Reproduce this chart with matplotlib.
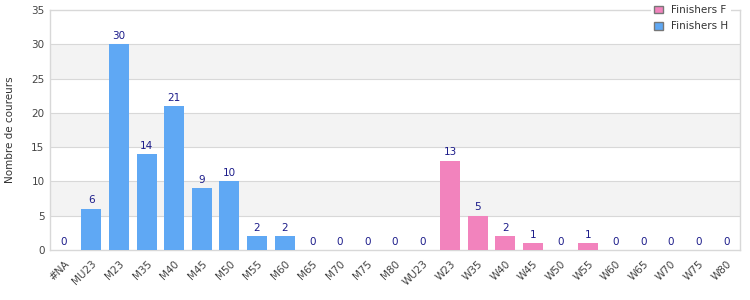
import numpy as np
import matplotlib
matplotlib.use('Agg')
import matplotlib.pyplot as plt
from matplotlib.patches import Patch

categories = ['#NA', 'MU23', 'M23', 'M35', 'M40', 'M45', 'M50', 'M55', 'M60', 'M65',
              'M70', 'M75', 'M80', 'WU23', 'W23', 'W35', 'W40', 'W45', 'W50', 'W55',
              'W60', 'W65', 'W70', 'W75', 'W80']
finishers_h = [0, 6, 30, 14, 21, 9, 10, 2, 2, 0, 0, 0, 0, None, None, None, None, None,
               None, None, None, None, None, None, None]
finishers_f = [None, None, None, None, None, None, None, None, None, None, None, None, None,
               0, 13, 5, 2, 1, 0, 1, 0, 0, 0, 0, 0]

blue = '#5fa8f4'
pink = '#f283bd'
grid_c = '#d8d8d8'

plt.rcParams['font.family'] = 'DejaVu Sans'
fig = plt.figure(figsize=(7.5, 3), dpi=100)
ax = fig.add_axes([0.0667, 0.1667, 0.92, 0.80])

x = np.arange(len(categories))
h_idx = [i for i, v in enumerate(finishers_h) if v is not None]
f_idx = [i for i, v in enumerate(finishers_f) if v is not None]
h_val = [finishers_h[i] for i in h_idx]
f_val = [finishers_f[i] for i in f_idx]

ax.bar(h_idx, h_val, width=0.72, color=blue, zorder=3)
ax.bar(f_idx, f_val, width=0.72, color=pink, zorder=3)

for i, v in zip(h_idx + f_idx, h_val + f_val):
    ax.text(i, v + 0.5, str(v), ha='center', va='bottom', fontsize=7.5, color='#1c1c8a', zorder=4)

# alternating bands
for lo in range(5, 35, 10):
    ax.axhspan(lo, lo + 5, color='#f3f3f3', zorder=0, lw=0)
for yv in range(5, 35, 5):
    ax.axhline(yv, color=grid_c, lw=0.8, zorder=1)

ax.set_xlim(-0.5, len(categories) - 0.5)
ax.set_ylim(0, 35)
ax.set_yticks(range(0, 36, 5))
ax.set_xticks(x)
ax.set_xticklabels(categories, rotation=45, ha='right', rotation_mode='anchor')
ax.tick_params(axis='both', length=0, labelsize=7.5, colors='#444444', pad=4)
ax.tick_params(axis='x', pad=6)
for s in ax.spines.values():
    s.set_color(grid_c)
    s.set_linewidth(1)
ax.set_ylabel('Nombre de coureurs', fontsize=7.5, color='#333333', labelpad=12)

handles = [Patch(facecolor=pink, edgecolor='#777777', label='Finishers F'),
           Patch(facecolor=blue, edgecolor='#777777', label='Finishers H')]
leg = ax.legend(handles=handles, loc='upper right', bbox_to_anchor=(0.995, 1.055),
                fontsize=7.5, frameon=True, handlelength=0.8, handleheight=0.8,
                borderpad=0.3, labelspacing=0.6, handletextpad=0.8)
leg.get_frame().set_edgecolor('none')
leg.get_frame().set_facecolor('white')
leg.get_frame().set_alpha(1)
leg.set_zorder(5)
for t in leg.get_texts():
    t.set_color('#333333')

fig.savefig('out.png', dpi=100)
